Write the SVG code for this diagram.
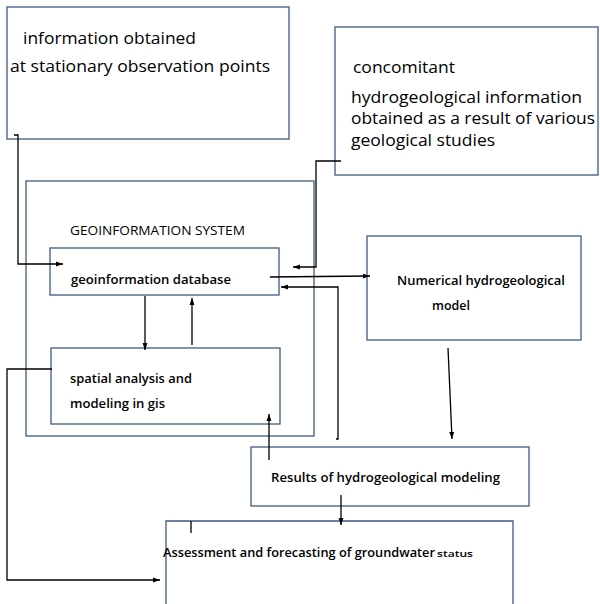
<svg xmlns="http://www.w3.org/2000/svg" width="600" height="604" viewBox="0 0 600 604">
<style>
.box{fill:none;stroke:#3f5a80;stroke-width:1.3}
.ln{fill:none;stroke:#000;stroke-width:1.3}
.big{font-family:"Open Sans","Noto Sans",sans-serif;font-size:16px;fill:#000}
.sm{font-family:"Open Sans","Noto Sans",sans-serif;font-size:12.5px;font-weight:600;fill:#000}
</style>
<defs>
<marker id="ah" viewBox="0 0 10 10" refX="10" refY="5" markerWidth="7" markerHeight="7" orient="auto-start-reverse" markerUnits="userSpaceOnUse">
<path d="M0,1.5 L10,5 L0,8.5 z" fill="#000"/>
</marker>
</defs>
<rect width="600" height="604" fill="#fff"/>
<g id="stationary">
<rect class="box" x="7" y="7" width="282" height="132"/>
<text class="big" x="23" y="44" textLength="173" lengthAdjust="spacingAndGlyphs">information obtained</text>
<text class="big" x="10" y="72" textLength="260" lengthAdjust="spacingAndGlyphs">at stationary observation points</text>
</g>
<g id="concomitant">
<rect class="box" x="335" y="27" width="263" height="148"/>
<text class="big" x="353" y="73" textLength="102" lengthAdjust="spacingAndGlyphs">concomitant</text>
<text class="big" x="351" y="103" textLength="231" lengthAdjust="spacingAndGlyphs">hydrogeological information</text>
<text class="big" x="351" y="124" textLength="244" lengthAdjust="spacingAndGlyphs">obtained as a result of various</text>
<text class="big" x="351" y="146" textLength="144" lengthAdjust="spacingAndGlyphs">geological studies</text>
</g>
<g id="gis">
<rect class="box" x="26" y="181" width="288" height="255"/>
<text class="sm" x="70" y="235" style="font-weight:400" textLength="175" lengthAdjust="spacingAndGlyphs">GEOINFORMATION SYSTEM</text>
</g>
<g id="database">
<rect class="box" x="50" y="248" width="229" height="47"/>
<text class="sm" x="71" y="284" textLength="160" lengthAdjust="spacingAndGlyphs">geoinformation database</text>
</g>
<g id="spatial">
<rect class="box" x="51" y="348" width="229" height="76"/>
<text class="sm" x="70" y="383" textLength="122" lengthAdjust="spacingAndGlyphs">spatial analysis and</text>
<text class="sm" x="70" y="408" textLength="95" lengthAdjust="spacingAndGlyphs">modeling in gis</text>
</g>
<g id="numerical">
<rect class="box" x="367" y="236" width="214" height="104"/>
<text class="sm" x="397" y="285" textLength="168" lengthAdjust="spacingAndGlyphs">Numerical hydrogeological</text>
<text class="sm" x="432" y="310" textLength="38" lengthAdjust="spacingAndGlyphs">model</text>
</g>
<g id="results">
<rect class="box" x="251" y="447" width="278" height="59"/>
<text class="sm" x="271" y="482" textLength="229" lengthAdjust="spacingAndGlyphs">Results of hydrogeological modeling</text>
</g>
<g id="assessment">
<path class="box" d="M166,604 V521 H513 V604"/>
<line class="ln" x1="191" y1="521" x2="191" y2="533"/>
<text class="sm" x="163" y="557"><tspan textLength="272" lengthAdjust="spacingAndGlyphs">Assessment and forecasting of groundwater</tspan><tspan x="437" style="font-size:8.5px" textLength="36" lengthAdjust="spacingAndGlyphs">status</tspan></text>
</g>
<g id="connectors">
<path class="ln" d="M14,135 H18 V264 H63" marker-end="url(#ah)"/>
<path class="ln" d="M341,161 H316 V267 H293" marker-end="url(#ah)"/>
<path class="ln" d="M270,277 L370,276" marker-end="url(#ah)"/>
<path class="ln" d="M336,439 H338 V287 H281" marker-end="url(#ah)"/>
<path class="ln" d="M145,296 V350" marker-end="url(#ah)"/>
<path class="ln" d="M192,345 V298" marker-end="url(#ah)"/>
<path class="ln" d="M52,369 H7 V580 H160" marker-end="url(#ah)"/>
<path class="ln" d="M448,348 L452,439" marker-end="url(#ah)"/>
<path class="ln" d="M269,460 V414" marker-end="url(#ah)"/>
<path class="ln" d="M341,495 V525" marker-end="url(#ah)"/>
</g>
</svg>
